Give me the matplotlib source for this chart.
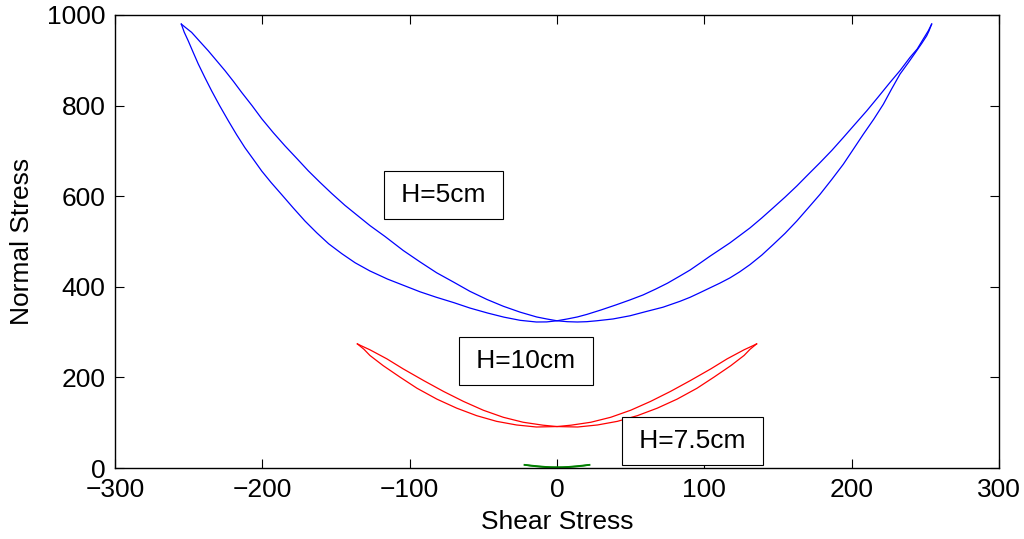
import matplotlib
matplotlib.use("Agg")
import matplotlib.pyplot as plt

# H=5cm loop (blue): branch 1 = outer left -> crossing -> inner right
blue_x1 = [-255, -253, -250.3, -247, -243.5, -239, -234.4, -229, -223, -217.5, -211.8, -206,
           -200.4, -194, -187, -179, -171, -163, -155, -146, -137, -127, -115, -104, -93,
           -82, -70, -59, -47, -36, -25, -14, -7, 0,
           7, 13.8, 20.2, 30, 40, 49.5, 58.4, 67, 75, 83, 90.3, 97, 103.8, 110.5, 117.4, 124,
           131, 139, 146.8, 154.8, 162.7, 170.5, 178.5, 186.5, 194.3, 202, 210.2, 218, 226,
           233, 239.6, 244.5, 248.6, 252, 254.3]
blue_y1 = [980, 962, 943, 918, 892, 862, 832.5, 800, 766, 736, 707, 681,
           655.5, 630, 604, 574, 545, 519, 495, 473, 453, 435, 417, 403, 389,
           377, 365, 353, 342, 333, 326, 322.3, 322.5, 325,
           329, 333.4, 339, 349, 360, 371, 382, 395, 408, 423, 437, 452, 467.5, 482, 497, 513,
           530, 552, 574.6, 598, 622.3, 648, 674, 701, 729.4, 758, 788.3, 819, 851,
           878, 906.4, 925, 947, 965, 980]
# branch 2 = outer right -> crossing -> inner left
blue_x2 = [254.3, 252.5, 250.9, 247.5, 244.1, 238.5, 232.8, 227, 221.5, 215, 207.9, 201,
           194.3, 186.5, 178.5, 170.5, 162.7, 154.8, 146.8, 139, 131, 124, 117.4, 110.5,
           103.8, 97, 90.3, 83.5, 72, 60, 49.5, 38, 27, 20.2, 13.8, 7, 0,
           -7, -13.8, -25, -36.4, -47.5, -59.1, -70, -81.7, -93, -104.3, -116.7, -126.9,
           -134.9, -144, -152.9, -161, -168.8, -176.5, -184.6, -192.5, -200.4, -207, -214,
           -219.5, -225.3, -231, -236.7, -242, -248, -252, -255]
blue_y2 = [980, 965, 954, 937, 921, 895, 869.5, 836, 803, 770, 736.7, 703,
           670.4, 637, 604, 574, 545, 518, 493.4, 470, 449, 433, 419.7, 408,
           397.6, 387, 376.8, 368, 355, 345, 336, 329, 325, 323, 322.3, 323, 325,
           329, 333.4, 344, 357, 372, 390, 410, 431, 455, 480, 511, 535,
           556, 580, 606, 631, 656, 683, 711, 740, 771, 800, 829,
           853, 877, 899, 921, 940, 961.7, 972, 980]

# H=10cm loop (red)
red_x1 = [-135.5, -131, -127, -118, -106.5, -95, -81.5, -68, -54.5, -41, -27.5, -14, 0,
          9.5, 23, 36.5, 50, 63.5, 77, 90.5, 104.5, 115.5, 127, 133, 135.5]
red_y1 = [274, 262, 248.5, 226, 200.5, 176, 152, 132, 115.5, 103, 95, 90.5, 91.5,
          94.5, 101, 112, 127.5, 147, 169, 193, 219, 241, 261, 270, 274]
red_x2 = [135.5, 131, 127, 118, 106.5, 95, 81.5, 68, 54.5, 41, 27.5, 14, 0,
          -9.5, -23, -36.5, -50, -63.5, -77, -90.5, -104.5, -115.5, -127, -133, -135.5]
red_y2 = [274, 262, 248.5, 226, 200.5, 176, 152, 132, 115.5, 103, 95, 90.5, 91.5,
          94.5, 101, 112, 127.5, 147, 169, 193, 219, 241, 261, 270, 274]

# H=7.5cm loop (green), very small
green_x1 = [-22, -18, -13, -8, -4, 0, 4, 8, 13, 18, 22]
green_y1 = [7, 5, 3.2, 2, 1.5, 1.5, 1.8, 2.6, 4, 5.6, 7]
green_x2 = [22, 18, 13, 8, 4, 0, -4, -8, -13, -18, -22]
green_y2 = [7, 5, 3.2, 2, 1.5, 1.5, 1.8, 2.6, 4, 5.6, 7]

labels = ["H=5cm", "H=10cm", "H=7.5cm"]
label_x = [-77, -21, 92]
label_y = [602, 237, 60]

plt.rcParams["font.family"] = ["Liberation Sans", "DejaVu Sans"]
plt.rcParams["font.size"] = 19

fig = plt.figure(figsize=(10.24, 5.39), dpi=100)
ax = fig.add_axes([115 / 1024, 1 - 468 / 539, 884 / 1024, 453 / 539])

ax.plot(blue_x1, blue_y1, color="#0000ff", lw=0.9)
ax.plot(blue_x2, blue_y2, color="#0000ff", lw=0.9)
ax.plot(red_x1, red_y1, color="#ff0000", lw=0.9)
ax.plot(red_x2, red_y2, color="#ff0000", lw=0.9)
ax.plot(green_x1, green_y1, color="#008000", lw=1.2)
ax.plot(green_x2, green_y2, color="#008000", lw=1.2)

for txt, tx, ty in zip(labels, label_x, label_y):
    ax.text(tx, ty, "\u2009" + txt + "\u2009", ha="center", va="center",
            bbox=dict(boxstyle="square,pad=0.45", fc="white", ec="black", lw=0.8))

ax.set_xlim(-300, 300)
ax.set_ylim(0, 1000)
ax.set_xticks([-300, -200, -100, 0, 100, 200, 300])
ax.set_xticklabels(["\u2212300", "\u2212200", "\u2212100", "0", "100", "200", "300"])
ax.set_yticks([0, 200, 400, 600, 800, 1000])
ax.tick_params(direction="in", top=True, right=True, length=6.5, width=0.8,
               pad=7, labelsize=19)
for s in ax.spines.values():
    s.set_linewidth(1.0)

ax.set_xlabel("Shear Stress", labelpad=6)
ax.set_ylabel("Normal Stress", labelpad=9)

fig.savefig("out.png", dpi=100)
